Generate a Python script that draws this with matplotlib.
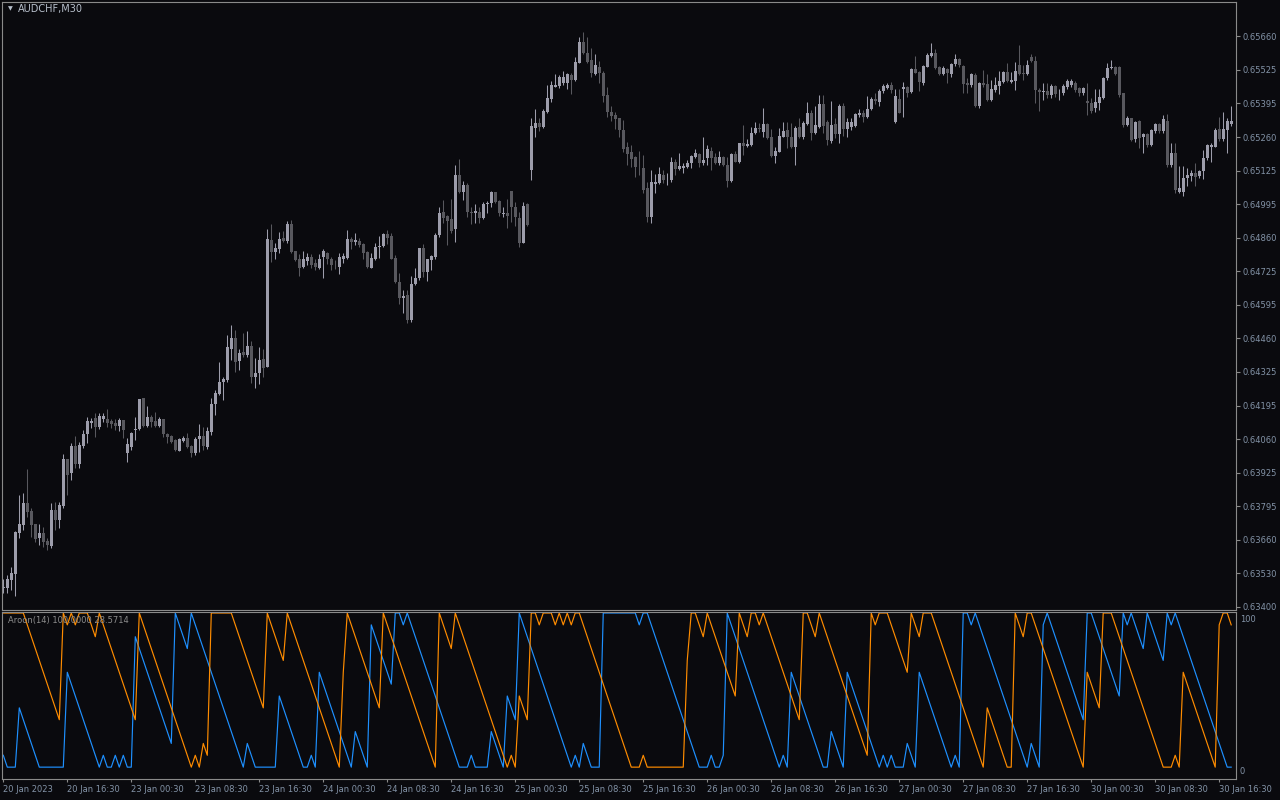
import numpy as np
import matplotlib
matplotlib.use('Agg')
import matplotlib.pyplot as plt

# AUDCHF M30, prices in points (1e-5)
opens = [
    63474, 63474, 63507, 63531, 63694, 63725, 63813, 63780, 63729, 63675,
    63692, 63661, 63642, 63784, 63745, 63800, 63986, 63932, 64038, 63966,
    64038, 64084, 64130, 64147, 64114, 64143, 64143, 64137, 64130, 64117,
    64141, 64011, 64035, 64100, 64106, 64226, 64117, 64151, 64137, 64117,
    64145, 64084, 64077, 64061, 64019, 64059, 64068, 64038, 64011, 64064,
    64077, 64035, 64094, 64204, 64243, 64292, 64299, 64423, 64465, 64375,
    64410, 64398, 64433, 64312, 64328, 64382, 64352, 64853, 64807, 64819,
    64861, 64849, 64917, 64810, 64778, 64748, 64770, 64785, 64763, 64744,
    64787, 64800, 64779, 64756, 64748, 64778, 64782, 64857, 64847, 64849,
    64836, 64807, 64744, 64779, 64824, 64831, 64877, 64869, 64783, 64688,
    64625, 64635, 64536, 64679, 64702, 64820, 64728, 64774, 64787, 64873,
    64964, 64950, 64937, 64897, 65111, 65045, 65071, 64964, 64959, 64966,
    64939, 64996, 64999, 65042, 65009, 64955, 64962, 65046, 64985, 64939,
    64843, 64996, 65131, 65298, 65318, 65302, 65362, 65412, 65461, 65463,
    65476, 65476, 65505, 65487, 65556, 65636, 65595, 65566, 65511, 65537,
    65516, 65427, 65361, 65348, 65335, 65289, 65220, 65200, 65183, 65142,
    65137, 65060, 64946, 65075, 65080, 65111, 65093, 65091, 65163, 65133,
    65137, 65141, 65159, 65183, 65194, 65157, 65177, 65207, 65183, 65157,
    65183, 65150, 65088, 65194, 65163, 65236, 65225, 65229, 65278, 65296,
    65282, 65313, 65260, 65186, 65203, 65262, 65289, 65260, 65220, 65302,
    65260, 65313, 65358, 65276, 65302, 65392, 65322, 65247, 65313, 65273,
    65384, 65292, 65302, 65305, 65348, 65355, 65339, 65371, 65412, 65401,
    65443, 65457, 65467, 65322, 65412, 65451, 65458, 65441, 65531, 65520,
    65476, 65540, 65583, 65593, 65537, 65509, 65529, 65509, 65549, 65569,
    65542, 65476, 65467, 65507, 65384, 65476, 65471, 65408, 65447, 65463,
    65480, 65520, 65480, 65484, 65546, 65516, 65511, 65577, 65564, 65448,
    65441, 65445, 65428, 65463, 65434, 65434, 65458, 65467, 65477, 65454,
    65434, 65405, 65395, 65378, 65395, 65417, 65494, 65533, 65540, 65540,
    65434, 65309, 65335, 65252, 65326, 65263, 65273, 65230, 65283, 65313,
    65283, 65326, 65151, 65199, 65045, 65045, 65098, 65107, 65120, 65107,
    65128, 65177, 65223, 65223, 65292, 65252, 65289, 65313,
]
highs = [
    63510, 63527, 63560, 63700, 63844, 63850, 63945, 63791, 63729, 63729,
    63718, 63672, 63811, 63817, 63817, 64006, 63986, 64051, 64077, 64055,
    64101, 64151, 64147, 64167, 64167, 64167, 64183, 64143, 64143, 64150,
    64141, 64068, 64094, 64154, 64224, 64226, 64196, 64160, 64171, 64151,
    64145, 64090, 64081, 64064, 64068, 64077, 64088, 64042, 64075, 64123,
    64114, 64114, 64226, 64259, 64369, 64312, 64477, 64517, 64497, 64420,
    64484, 64493, 64453, 64385, 64428, 64420, 64897, 64917, 64840, 64884,
    64888, 64930, 64932, 64810, 64798, 64810, 64803, 64798, 64777, 64796,
    64816, 64804, 64787, 64774, 64800, 64803, 64893, 64866, 64880, 64860,
    64843, 64810, 64800, 64840, 64869, 64882, 64893, 64882, 64794, 64721,
    64655, 64655, 64712, 64741, 64822, 64836, 64779, 64794, 64882, 64985,
    65012, 64952, 65016, 65150, 65173, 65085, 65078, 64985, 64996, 64985,
    65005, 65009, 65047, 65045, 65012, 64985, 65014, 65047, 65005, 64966,
    65005, 64999, 65335, 65371, 65335, 65372, 65467, 65483, 65511, 65507,
    65524, 65516, 65516, 65577, 65656, 65676, 65656, 65615, 65590, 65564,
    65524, 65458, 65384, 65361, 65338, 65328, 65243, 65229, 65186, 65207,
    65190, 65084, 65130, 65115, 65141, 65130, 65117, 65181, 65173, 65196,
    65157, 65170, 65190, 65212, 65199, 65260, 65229, 65220, 65199, 65206,
    65186, 65181, 65196, 65207, 65239, 65309, 65252, 65299, 65322, 65315,
    65375, 65315, 65291, 65220, 65295, 65322, 65322, 65315, 65305, 65335,
    65326, 65401, 65368, 65384, 65428, 65428, 65329, 65405, 65335, 65392,
    65395, 65335, 65335, 65358, 65371, 65368, 65424, 65421, 65434, 65450,
    65471, 65476, 65480, 65450, 65450, 65480, 65463, 65533, 65582, 65524,
    65546, 65593, 65632, 65608, 65542, 65542, 65533, 65553, 65590, 65573,
    65546, 65494, 65513, 65516, 65478, 65527, 65511, 65487, 65500, 65523,
    65524, 65553, 65520, 65560, 65626, 65547, 65566, 65590, 65582, 65454,
    65477, 65474, 65471, 65467, 65450, 65471, 65490, 65490, 65481, 65461,
    65458, 65474, 65415, 65450, 65450, 65500, 65553, 65566, 65543, 65543,
    65437, 65345, 65338, 65325, 65329, 65279, 65276, 65292, 65318, 65318,
    65349, 65353, 65236, 65236, 65147, 65147, 65137, 65131, 65157, 65131,
    65210, 65233, 65236, 65296, 65342, 65362, 65335, 65382,
]
lows = [
    63454, 63454, 63467, 63444, 63672, 63705, 63758, 63679, 63659, 63646,
    63639, 63626, 63635, 63705, 63712, 63791, 63844, 63903, 63949, 63949,
    64028, 64048, 64108, 64072, 64104, 64134, 64114, 64108, 64101, 64098,
    64068, 63976, 64022, 64061, 64101, 64114, 64114, 64114, 64114, 64114,
    64075, 64051, 64048, 64019, 64019, 64055, 64028, 63995, 64002, 64015,
    64022, 64024, 64081, 64160, 64239, 64220, 64292, 64378, 64332, 64338,
    64391, 64391, 64286, 64266, 64283, 64312, 64352, 64767, 64778, 64800,
    64847, 64840, 64803, 64771, 64712, 64741, 64754, 64741, 64734, 64738,
    64704, 64758, 64734, 64737, 64717, 64761, 64779, 64819, 64833, 64824,
    64777, 64744, 64741, 64774, 64781, 64827, 64837, 64777, 64684, 64598,
    64563, 64523, 64530, 64675, 64695, 64708, 64692, 64735, 64777, 64864,
    64922, 64834, 64882, 64847, 65038, 65012, 64946, 64917, 64922, 64922,
    64935, 64959, 64985, 64999, 64949, 64946, 64900, 64926, 64909, 64827,
    64840, 64910, 65091, 65263, 65286, 65296, 65355, 65401, 65458, 65454,
    65467, 65450, 65432, 65484, 65553, 65590, 65553, 65498, 65507, 65474,
    65401, 65342, 65326, 65291, 65260, 65203, 65150, 65141, 65104, 65111,
    65041, 64926, 64922, 65041, 65075, 65078, 65071, 65084, 65111, 65130,
    65117, 65137, 65137, 65180, 65144, 65150, 65150, 65130, 65154, 65150,
    65146, 65064, 65084, 65161, 65160, 65190, 65220, 65226, 65273, 65282,
    65262, 65254, 65181, 65159, 65200, 65260, 65216, 65216, 65150, 65256,
    65252, 65309, 65249, 65273, 65296, 65276, 65230, 65236, 65256, 65236,
    65265, 65260, 65289, 65302, 65342, 65322, 65335, 65368, 65392, 65384,
    65434, 65450, 65434, 65318, 65355, 65342, 65421, 65434, 65514, 65445,
    65467, 65537, 65579, 65529, 65507, 65507, 65476, 65500, 65542, 65540,
    65437, 65437, 65461, 65381, 65375, 65461, 65405, 65405, 65441, 65430,
    65476, 65480, 65474, 65447, 65507, 65487, 65507, 65560, 65395, 65366,
    65408, 65415, 65415, 65421, 65408, 65428, 65452, 65458, 65441, 65424,
    65428, 65349, 65355, 65362, 65368, 65411, 65487, 65530, 65507, 65421,
    65302, 65305, 65247, 65243, 65217, 65199, 65223, 65226, 65279, 65279,
    65276, 65141, 65144, 65038, 65038, 65028, 65067, 65085, 65067, 65100,
    65094, 65170, 65164, 65221, 65247, 65247, 65197, 65305,
]
closes = [
    63481, 63510, 63536, 63698, 63729, 63813, 63778, 63725, 63668, 63692,
    63659, 63646, 63784, 63745, 63804, 63986, 63923, 64038, 63966, 64042,
    64085, 64137, 64137, 64114, 64156, 64156, 64127, 64123, 64117, 64141,
    64101, 64046, 64090, 64104, 64224, 64117, 64151, 64134, 64117, 64145,
    64084, 64075, 64055, 64022, 64064, 64071, 64035, 64011, 64064, 64077,
    64038, 64097, 64204, 64249, 64291, 64303, 64429, 64465, 64371, 64404,
    64398, 64433, 64312, 64328, 64378, 64348, 64857, 64807, 64822, 64857,
    64849, 64917, 64806, 64774, 64744, 64777, 64787, 64754, 64748, 64778,
    64810, 64779, 64754, 64754, 64785, 64791, 64857, 64847, 64853, 64832,
    64803, 64748, 64782, 64827, 64831, 64877, 64862, 64778, 64688, 64622,
    64631, 64536, 64679, 64701, 64820, 64728, 64777, 64790, 64873, 64962,
    64942, 64930, 64889, 65111, 65042, 65071, 64966, 64962, 64968, 64942,
    64996, 64999, 65043, 65003, 64959, 64962, 64949, 64985, 64946, 64843,
    64988, 64913, 65305, 65315, 65302, 65366, 65414, 65467, 65467, 65500,
    65498, 65511, 65487, 65557, 65636, 65595, 65560, 65516, 65546, 65513,
    65423, 65361, 65344, 65331, 65289, 65212, 65194, 65173, 65141, 65141,
    65051, 64946, 65082, 65082, 65115, 65091, 65095, 65163, 65133, 65146,
    65146, 65159, 65186, 65196, 65159, 65170, 65212, 65177, 65157, 65183,
    65150, 65088, 65194, 65163, 65236, 65225, 65233, 65278, 65295, 65293,
    65313, 65256, 65186, 65207, 65265, 65285, 65260, 65220, 65295, 65262,
    65315, 65357, 65278, 65309, 65392, 65305, 65249, 65309, 65273, 65384,
    65292, 65322, 65322, 65352, 65358, 65339, 65371, 65412, 65404, 65443,
    65463, 65467, 65447, 65424, 65358, 65458, 65437, 65531, 65516, 65480,
    65542, 65586, 65593, 65533, 65511, 65533, 65513, 65550, 65569, 65545,
    65471, 65467, 65511, 65384, 65476, 65467, 65408, 65450, 65467, 65483,
    65520, 65484, 65487, 65523, 65511, 65511, 65547, 65564, 65448, 65441,
    65445, 65428, 65463, 65432, 65437, 65463, 65483, 65481, 65448, 65434,
    65457, 65395, 65364, 65401, 65419, 65496, 65533, 65540, 65510, 65428,
    65309, 65338, 65250, 65322, 65256, 65272, 65230, 65289, 65313, 65283,
    65331, 65151, 65197, 65052, 65058, 65098, 65111, 65120, 65102, 65128,
    65177, 65230, 65230, 65289, 65252, 65292, 65326, 65326,
]

# first 13 bars: the 14-bar window reaches before the visible data, so these
# were read straight off the indicator panel
aroon_up_head = [100, 100, 100, 100, 100, 100, 92.86, 85.71, 78.57, 71.43, 64.29, 57.14, 50]
aroon_down_head = [14.29, 7.14, 7.14, 7.14, 42.86, 35.71, 28.57, 21.43, 14.29, 7.14, 7.14, 7.14, 7.14]

time_labels = ['20 Jan 2023', '20 Jan 16:30', '23 Jan 00:30', '23 Jan 08:30',
               '23 Jan 16:30', '24 Jan 00:30', '24 Jan 08:30', '24 Jan 16:30',
               '25 Jan 00:30', '25 Jan 08:30', '25 Jan 16:30', '26 Jan 00:30',
               '26 Jan 08:30', '26 Jan 16:30', '27 Jan 00:30', '27 Jan 08:30',
               '27 Jan 16:30', '30 Jan 00:30', '30 Jan 08:30', '30 Jan 16:30']
price_labels = ['0.63400', '0.63530', '0.63660', '0.63795', '0.63925', '0.64060',
                '0.64195', '0.64325', '0.64460', '0.64595', '0.64725', '0.64860',
                '0.64995', '0.65125', '0.65260', '0.65395', '0.65525', '0.65660']

period = 14
legend_text = 'Aroon(14) 100.0000 28.5714'

BG = '#0a0a0e'
BULL = '#9d9dab'
BEAR = '#58585e'
FRAME = '#8a8a8a'
TXT = '#8393a7'

o = np.array(opens) / 1e5
h = np.array(highs) / 1e5
l = np.array(lows) / 1e5
c = np.array(closes) / 1e5
n = len(c)
x = np.arange(n)


def aroon(close, p, up_head, down_head):
    up = list(up_head)
    down = list(down_head)
    for i in range(len(up_head), len(close)):
        w = close[i - p + 1:i + 1]
        # bars since extreme; ties count the older bar
        since_hi = (p - 1) - np.argmax(w)
        since_lo = (p - 1) - np.argmin(w)
        up.append(100.0 * (p - since_hi) / p)
        down.append(100.0 * (p - since_lo) / p)
    return np.array(up), np.array(down)


aroon_up, aroon_down = aroon(c, period, aroon_up_head, aroon_down_head)

fig = plt.figure(figsize=(12.8, 8), dpi=100, facecolor=BG)
ax = fig.add_axes([2 / 1280, 1 - 610 / 800, 1234 / 1280, 608 / 800])
ax2 = fig.add_axes([2 / 1280, 1 - 779 / 800, 1234 / 1280, 167 / 800])

# candles
cols = np.where(c >= o, BULL, BEAR)
ax.vlines(x, l, h, colors=cols, linewidth=0.75)
body = np.maximum(np.abs(c - o), 0.000012)
ax.bar(x, body, bottom=np.minimum(o, c), width=0.72, color=cols, linewidth=0)

ax.set_xlim(-0.325, 308.2)
ax.set_ylim(0.633881, 0.657958)
levels = 0.634 + np.arange(len(price_labels)) * 0.0226 / 17
ax.yaxis.tick_right()
ax.set_yticks(levels, price_labels)
ax.set_xticks([])
ax.tick_params(axis='y', colors=FRAME, labelcolor=TXT, labelsize=6, length=3, width=0.8, pad=2)

# aroon panel
ax2.plot(x, aroon_down, color='#1e90ff', linewidth=0.85)
ax2.plot(x, aroon_up, color='#ff8c00', linewidth=0.85)
ax2.set_xlim(-0.325, 308.2)
ax2.set_ylim(0, 100.6)
ax2.set_yticks([])
ax2.set_xticks(np.arange(0, n, 16), time_labels)
for lbl in ax2.get_xticklabels():
    lbl.set_ha('left')
ax2.tick_params(axis='x', colors=FRAME, labelcolor=TXT, labelsize=6, length=2.5, width=0.8, pad=1.5)

for a in (ax, ax2):
    a.set_facecolor(BG)
    for sp in a.spines.values():
        sp.set_color(FRAME)
        sp.set_linewidth(0.8)

fig.text(1240 / 1280, 1 - 619 / 800, '100', color=TXT, fontsize=6, va='center')
fig.text(1240 / 1280, 1 - 772 / 800, '0', color=TXT, fontsize=6, va='center')
fig.text(8 / 1280, 1 - 9 / 800, '\u25bc', color='#b8c0cc', fontsize=4.5, va='center')
fig.text(18 / 1280, 1 - 9 / 800, 'AUDCHF,M30', color='#b8c0cc', fontsize=7, va='center')
fig.text(8 / 1280, 1 - 621 / 800, legend_text, color='#8c8c8c', fontsize=6, va='center')

fig.savefig('out.png', dpi=100, facecolor=BG)
